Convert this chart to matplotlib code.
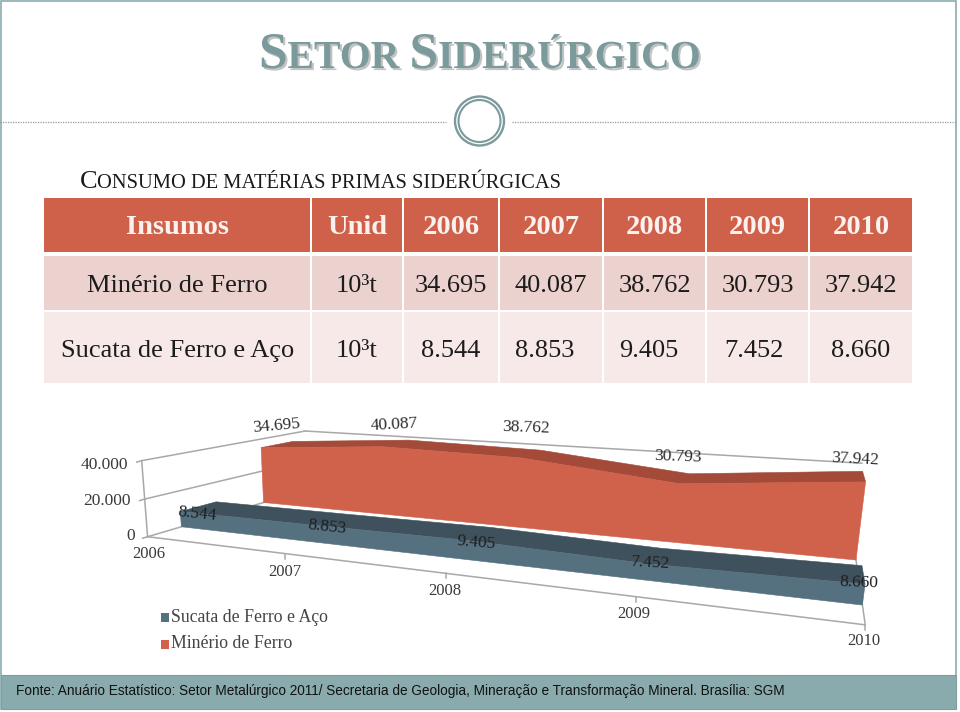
import numpy as np
import matplotlib
matplotlib.use("Agg")
import matplotlib.pyplot as plt
from matplotlib.patches import Rectangle, Polygon, Ellipse
import matplotlib.patheffects as pe

# ---------- data ----------
years = [2006, 2007, 2008, 2009, 2010]
minerio = [34695, 40087, 38762, 30793, 37942]
sucata = [8544, 8853, 9405, 7452, 8660]
series_names = ["Minério de Ferro", "Sucata de Ferro e Aço"]
unit = "10³t"
header = ["Insumos", "Unid", "2006", "2007", "2008", "2009", "2010"]
value_ticks = [0, 20000, 40000]
title_runs = [("S", 1), ("ETOR ", 0), ("S", 1), ("IDERÚRGICO", 0)]
sub_runs = [("C", 1), ("ONSUMO DE MATÉRIAS PRIMAS SIDERÚRGICAS", 0)]
source = ("Fonte: Anuário Estatístico: Setor Metalúrgico 2011/ Secretaria de Geologia, "
          "Mineração e Transformação Mineral. Brasília: SGM")

fmt = lambda v: f"{v:,}".replace(",", ".")

# ---------- colours ----------
TEAL = "#7b9a9c"
BAR = "#8aabad"
RED, RED_TOP = "#d0614a", "#a34a39"
BLUE, BLUE_TOP = "#55707f", "#3f515c"
GRID = "#a8a8a8"
TXT = "#3a3a3a"

fig = plt.figure(figsize=(9.6, 7.12), dpi=100, facecolor="white")
ax = fig.add_axes([0, 0, 1, 1])
ax.set_xlim(0, 960)
ax.set_ylim(712, 0)
ax.axis("off")
renderer = fig.canvas.get_renderer()
SERIF = "Liberation Serif"


def runs(x, y, parts, big, small, **kw):
    for s, is_big in parts:
        t = ax.text(x, y, s, fontsize=big if is_big else small, family=SERIF,
                    va="baseline", ha="left", **kw)
        x += t.get_window_extent(renderer).width
    return x


# ---------- slide frame ----------
ax.add_patch(Rectangle((1, 1), 955, 708, fc="none", ec=BAR, lw=1.2, zorder=1))
ax.add_patch(Rectangle((1, 675), 955, 34, fc=BAR, ec="#7f9ea0", lw=0.8, zorder=2))
ax.text(15.5, 690.5, source, fontsize=9.78, family="Liberation Sans", color="#111111",
        va="center", ha="left", zorder=3)
for a, b in [(0, 446), (512, 957)]:
    ax.plot([a, b], [122, 122], color="#8f9c9d", lw=0.9, ls=(0, (1, 1)), zorder=1)
ax.add_patch(Ellipse((479.5, 121), 49, 49, fc="white", ec=TEAL, lw=1.7, zorder=2))
ax.add_patch(Ellipse((479.5, 121), 42, 42, fc="white", ec=TEAL, lw=1.5, zorder=2))

# title and subtitle (small caps)
shadow = [pe.withSimplePatchShadow(offset=(1.5, -1.5), shadow_rgbFace="#888888", alpha=0.5)]
runs(259, 68, title_runs, 37, 28.6, color=TEAL, weight="bold", path_effects=shadow)
runs(79.5, 188, sub_runs, 19, 14.8, color="#1a1a1a")

# ---------- table ----------
col_edges = [44, 311, 403, 499, 603, 706, 809, 913]
row_edges = [198, 255, 311, 384]
row_cols = ["#cf614a", "#ecd2ce", "#f6e9e7"]
G = 1.0
for r, c in enumerate(row_cols):
    y0 = row_edges[r] + (G if r else 0)
    y1 = row_edges[r + 1] - (3 if r == 0 else G)
    for i in range(len(col_edges) - 1):
        ax.add_patch(Rectangle((col_edges[i] + (G if i else 0), y0),
                               col_edges[i + 1] - col_edges[i] - (2 * G if i else G),
                               y1 - y0, fc=c, ec="none", zorder=1))
cx = [(col_edges[i] + col_edges[i + 1]) / 2 for i in range(len(col_edges) - 1)]
for c, s in zip(cx, header):
    ax.text(c, 227, s, fontsize=20.5, family=SERIF, weight="bold", color="#fbf1ee",
            ha="center", va="center", zorder=3)
row2_shift = [0, 0, 0, -6, -6, -4, 0]
for yy, name, vals, shift in [(286, series_names[0], minerio, [0] * 7),
                              (351, series_names[1], sucata, row2_shift)]:
    cells = [name, unit] + [fmt(v) for v in vals]
    for c, s, d in zip(cx, cells, shift):
        ax.text(c + d, yy, s, fontsize=19, family=SERIF, color="#1c1c1c",
                ha="center", va="center", zorder=3)

# ---------- 3D chart: perspective camera fitted to the axis corners ----------
# (category index, value / 40000, depth 0 = front .. 1 = back wall) -> pixels
camera_refs = [
    ((0, 0, 0), (149, 536)), ((1, 0, 0), (286, 553)), ((2, 0, 0), (446, 573)),
    ((3, 0, 0), (636, 597)), ((4, 0, 0), (866, 622)), ((0, 1, 0), (139, 464)),
    ((0, 1, 1), (308, 431)), ((4, 1, 1), (861, 460)), ((0, 0, 1), (305, 488)),
    ((4, 0, 1), (853, 543)),
]
A = []
for (X, Y, Z), (px, py) in camera_refs:
    A.append([X, Y, Z, 1, 0, 0, 0, 0, -px * X, -px * Y, -px * Z, -px])
    A.append([0, 0, 0, 0, X, Y, Z, 1, -py * X, -py * Y, -py * Z, -py])
CAM = np.linalg.svd(np.array(A, float))[2][-1].reshape(3, 4)


def proj(u, v, w):
    h = CAM @ np.array([u, v / 40000.0, w, 1.0])
    return h[0] / h[2], h[1] / h[2]


def line3d(a, b, **kw):
    pa, pb = proj(*a), proj(*b)
    ax.plot([pa[0], pb[0]], [pa[1], pb[1]], color=GRID, lw=1.1, zorder=2, **kw)


# walls, floor and axes
line3d((0, 40000, 0), (0, 40000, 1))
line3d((0, 20000, 0), (0, 20000, 1))
line3d((0, 40000, 1), (4, 40000, 1))
line3d((0, 0, 0), (0, 0, 1))
line3d((0, 0, 0), (4, 0, 0))
line3d((0, 0, 0), (0, 40000, 0))
line3d((4, 0, 0), (4, 0, 1))
for v in value_ticks:
    p = proj(0, v, 0)
    ax.plot([p[0] - 5, p[0]], [p[1] + 1.5, p[1]], color=GRID, lw=1.1, zorder=2)
for i in range(1, 5):
    p = proj(i, 0, 0)
    ax.plot([p[0], p[0]], [p[1], p[1] + 5], color=GRID, lw=1.1, zorder=2)


def area3d(vals, wf, wb, face, top, z):
    n = len(vals)
    front = [proj(i, vals[i], wf) for i in range(n)]
    base = [proj(i, 0, wf) for i in range(n)]
    back = [proj(i, vals[i], wb) for i in range(n)]
    ax.add_patch(Polygon(front + back[::-1], fc=top, ec=top, lw=0.4, zorder=z))
    ax.add_patch(Polygon(front + base[::-1], fc=face, ec=face, lw=0.4, zorder=z + 0.5))


area3d(minerio, 0.67, 0.90, RED, RED_TOP, 4)
area3d(sucata, 0.17, 0.37, BLUE, BLUE_TOP, 5)

# axis tick labels
LBL = dict(family=SERIF, ha="center", va="center", zorder=8)
for v, (lx, ly) in zip(value_ticks, [(131, 536), (107, 501), (104, 465)]):
    ax.text(lx, ly, fmt(v), fontsize=12.5, color=TXT, **LBL)
for yr, (lx, ly) in zip(years, [(149, 554), (285, 572), (445, 591), (634, 614), (864, 641)]):
    ax.text(lx, ly, str(yr), fontsize=12, color=TXT, **LBL)

# data labels
for v, (lx, ly, rot) in zip(minerio, [(276, 426, 5), (394, 425, 3), (526, 428, -2),
                                      (678, 457, -2), (855, 459, -3)]):
    ax.text(lx, ly, fmt(v), fontsize=12.5, rotation=rot, color="#2c2c2c", **LBL)
for v, (lx, ly, rot) in zip(sucata, [(197, 514, -6), (327, 527, -6), (476, 543, -5),
                                     (651, 563, -3), (859, 583, -2)]):
    ax.text(lx, ly, fmt(v), fontsize=12.5, rotation=rot, color="#1e1e1e", **LBL)

# legend
for yy, name, col in [(617.5, series_names[1], BLUE), (644, series_names[0], RED)]:
    ax.add_patch(Rectangle((160.5, yy - 4.5), 8.5, 9, fc=col, ec="none", zorder=6))
    ax.text(171, yy, name, fontsize=12.8, family=SERIF, color="#444444",
            ha="left", va="center", zorder=6)

fig.savefig("out.png", dpi=100, facecolor="white")
